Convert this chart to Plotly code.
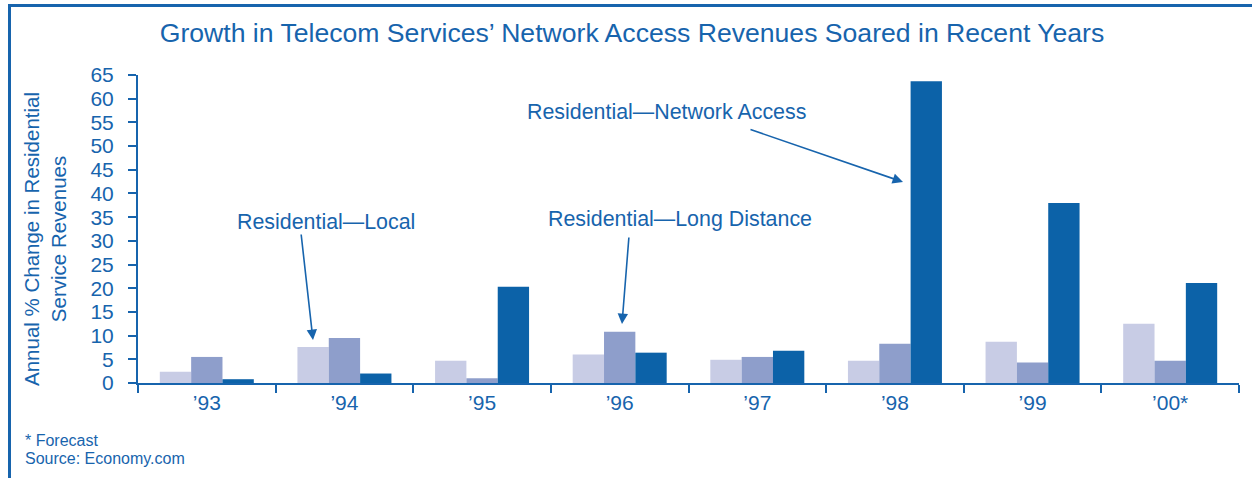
import plotly.graph_objects as go

years = ["’93", "’94", "’95", "’96", "’97", "’98", "’99", "’00*"]
local = [2.4, 7.6, 4.7, 6.0, 4.9, 4.7, 8.7, 12.5]
long_distance = [5.5, 9.5, 1.0, 10.8, 5.5, 8.3, 4.3, 4.7]
network_access = [0.8, 2.0, 20.3, 6.4, 6.8, 63.7, 38.0, 21.1]
y_ticks = list(range(0, 70, 5))

BLUE = "#1764AD"
FONT = "Liberation Sans, Arial, Helvetica, sans-serif"
W, H = 1252, 478
L, R, T, B = 138, 13, 75, 95
PW, PH = W - L - R, H - T - B


def px(xp):
    return (xp - L) / PW


def py(yp):
    return (H - B - yp) / PH


fig = go.Figure()
fig.add_trace(go.Bar(x=years, y=local, name="Residential—Local", marker=dict(color="#C8CCE5", line=dict(width=0))))
fig.add_trace(go.Bar(x=years, y=long_distance, name="Residential—Long Distance", marker=dict(color="#8E9ECB", line=dict(width=0))))
fig.add_trace(go.Bar(x=years, y=network_access, name="Residential—Network Access", marker=dict(color="#0C62A8", line=dict(width=0))))

fig.update_layout(
    width=W, height=H,
    margin=dict(l=L, r=R, t=T, b=B, pad=0),
    paper_bgcolor="white", plot_bgcolor="white",
    barmode="group", bargap=0.317, bargroupgap=0,
    showlegend=False,
    font=dict(family=FONT, color=BLUE, size=21),
    title=dict(text="Growth in Telecom Services’ Network Access Revenues Soared in Recent Years",
               x=632 / W, y=1 - 33 / H, xref="container", yref="container",
               xanchor="center", yanchor="middle",
               font=dict(family=FONT, size=26.6, color=BLUE)),
    xaxis=dict(showgrid=False, showline=True, linecolor=BLUE, linewidth=2,
               ticks="outside", tickson="boundaries", ticklen=8, tickwidth=2, tickcolor=BLUE,
               tickfont=dict(size=21, color=BLUE), zeroline=False),
    yaxis=dict(range=[0, 65], tickvals=y_ticks, showgrid=False, showline=True,
               linecolor=BLUE, linewidth=2, ticks="outside", ticklen=8, tickwidth=2,
               tickcolor=BLUE, tickfont=dict(size=21, color=BLUE), zeroline=False,
               ticklabelstandoff=10),
)

annotations = [
    dict(text="Annual % Change in Residential<br>Service Revenues", textangle=-90,
         x=px(45), y=py(239), xref="paper", yref="paper", showarrow=False,
         xanchor="center", yanchor="middle", font=dict(size=20.5, color=BLUE)),
    dict(text="* Forecast", x=px(23), y=py(440), xref="paper", yref="paper",
         showarrow=False, xanchor="left", yanchor="middle", font=dict(size=16, color=BLUE)),
    dict(text="Source: Economy.com", x=px(23), y=py(458), xref="paper", yref="paper",
         showarrow=False, xanchor="left", yanchor="middle", font=dict(size=16, color=BLUE)),
    dict(text="Residential—Local", x=px(326), y=py(222), xref="paper", yref="paper",
         showarrow=False, xanchor="center", yanchor="middle", font=dict(size=21.4, color=BLUE)),
    dict(text="Residential—Long Distance", x=px(680), y=py(219), xref="paper", yref="paper",
         showarrow=False, xanchor="center", yanchor="middle", font=dict(size=21.4, color=BLUE)),
    dict(text="Residential—Network Access", x=px(666), y=py(112), xref="paper", yref="paper",
         showarrow=False, xanchor="center", yanchor="middle", font=dict(size=21.4, color=BLUE)),
]
arrows = [((301, 233), (313, 340)), ((629, 236), (622, 324)), ((749, 129), (903, 182))]
for (tx, ty), (hx, hy) in arrows:
    annotations.append(dict(text="", x=px(hx), y=py(hy), xref="paper", yref="paper",
                            ax=tx - hx, ay=ty - hy, axref="pixel", ayref="pixel",
                            showarrow=True, arrowhead=2, arrowsize=1.3, arrowwidth=1.6,
                            arrowcolor=BLUE, standoff=0))
fig.update_layout(annotations=annotations)

fig.add_shape(type="line", xref="paper", yref="paper", x0=px(9.5), x1=px(W + 5),
              y0=py(5.5), y1=py(5.5), line=dict(color=BLUE, width=3))
fig.add_shape(type="line", xref="paper", yref="paper", x0=px(9.5), x1=px(9.5),
              y0=py(4), y1=py(H + 5), line=dict(color=BLUE, width=3))

fig.write_html("out.html", config={"displayModeBar": False},
               post_script="document.body.style.margin='0';document.body.style.overflow='hidden';")
